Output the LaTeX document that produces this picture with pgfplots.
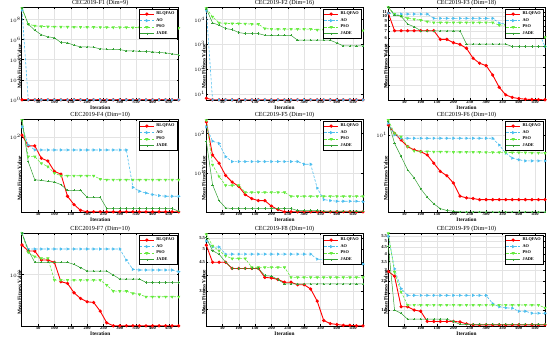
\documentclass[border=0pt]{standalone}
\usepackage{fontspec}
\setmainfont{Liberation Serif}
\usepackage{pgfplots}
\usepackage{pgfplotstable}
\pgfplotsset{compat=1.18}
\definecolor{aoc}{RGB}{77,190,238}
\definecolor{psoc}{RGB}{100,235,60}
\definecolor{jadec}{RGB}{50,160,50}

\pgfplotstableread{
it r a p j
1 1 8.5e8 1.26e9 1.26e9
20 1 1 3.4e7 3.39e7
40 1 1 2.3e7 8.5e6
60 1 1 2.0e7 2.95e6
80 1 1 1.9e7 1.86e6
100 1 1 1.85e7 1.48e6
120 1 1 1.8e7 5.0e5
140 1 1 1.8e7 4.68e5
160 1 1 1.75e7 2.69e5
180 1 1 1.75e7 1.86e5
200 1 1 1.7e7 1.86e5
220 1 1 1.7e7 1.70e5
240 1 1 1.65e7 1.17e5
260 1 1 1.65e7 1.07e5
280 1 1 1.6e7 1.07e5
300 1 1 1.6e7 1.0e5
320 1 1 1.6e7 7.4e4
340 1 1 1.55e7 7.4e4
360 1 1 1.55e7 6.8e4
380 1 1 1.5e7 6.3e4
400 1 1 1.5e7 5.9e4
420 1 1 1.5e7 5.0e4
440 1 1 1.45e7 4.7e4
460 1 1 1.45e7 3.7e4
480 1 1 1.4e7 2.95e4
}\Fa

\pgfplotstableread{
it r a p j
1 6.6 2.4e4 2.8e4 2.7e4
20 5.7 5.7 1.29e4 7.3e3
40 5.7 5.7 7.3e3 5.9e3
60 5.7 5.7 6.9e3 4.3e3
80 5.7 5.7 6.9e3 3.9e3
100 5.7 5.7 6.9e3 2.96e3
120 5.7 5.7 6.7e3 2.7e3
140 5.7 5.7 6.5e3 2.7e3
160 5.7 5.7 6.5e3 2.7e3
180 5.7 5.7 4.3e3 2.3e3
200 5.7 5.7 4.1e3 2.3e3
220 5.7 5.7 4.1e3 2.3e3
240 5.7 5.7 4.1e3 2.3e3
260 5.7 5.7 4.1e3 2.3e3
280 5.7 5.7 4.1e3 1.45e3
300 5.7 5.7 4.1e3 1.45e3
320 5.7 5.7 4.1e3 1.45e3
340 5.7 5.7 3.8e3 1.45e3
360 5.7 5.7 3.8e3 1.45e3
380 5.7 5.7 3.8e3 1.45e3
400 5.7 5.7 3.8e3 1.13e3
420 5.7 5.7 3.8e3 8.5e2
440 5.7 5.7 3.8e3 8.5e2
460 5.7 5.7 3.8e3 8.5e2
480 5.7 5.7 3.6e3 8.5e2
}\Fb

\pgfplotstableread{
it r a p j
1 10.7 10.7 12.3 12.3
20 7.11 10.5 10.5 10.26
40 7.11 10.5 10.0 10.0
60 7.11 10.5 9.5 8.3
80 7.11 10.5 9.3 7.8
100 7.11 10.5 9.1 7.1
120 7.11 10.5 8.8 7.1
140 7.11 9.5 8.6 7.1
160 5.8 9.5 8.6 7.1
180 5.8 9.5 8.6 7.1
200 5.37 9.5 8.6 7.1
220 5.16 9.5 8.6 7.1
240 4.71 9.5 8.6 5.2
260 3.73 9.5 8.6 5.2
280 3.32 9.5 8.6 5.2
300 3.14 9.5 8.6 5.2
320 2.52 9.5 8.6 5.2
340 1.89 8.5 8.1 5.2
360 1.58 8.3 8.1 5.2
380 1.49 8.0 7.9 4.9
400 1.45 7.0 6.1 4.9
420 1.43 7.0 6.1 4.9
440 1.42 7.0 6.1 4.9
460 1.415 7.0 6.1 4.9
480 1.41 4.9 6.1 4.9
}\Fc

\pgfplotstableread{
it r a p j
1 104 126 147 147
20 81 82.5 63 56
40 81 73.6 63 36.8
60 60.7 73.6 54 36.3
80 57 73.6 50 35.5
100 44.7 73.6 43 34.9
120 42 73.6 40.4 32.9
140 25.1 73.6 40.4 28.8
160 20.7 73.6 40.4 28.8
180 18.1 73.6 40.4 28.8
200 17.5 73.6 40.4 24.5
220 17.5 73.6 40.4 24.5
240 17.5 73.6 37.4 24.5
260 17.5 73.6 36.8 18.9
280 17.5 73.6 36.8 18.9
300 17.5 73.6 36.8 18.9
320 17.5 73.6 36.8 18.9
340 17.5 30.9 36.8 18.9
360 17.5 28.2 36.8 18.9
380 17.5 27.1 36.8 18.9
400 17.5 26.1 36.8 18.9
420 17.5 25.5 36.8 18.9
440 17.5 25.1 36.8 18.9
460 17.5 25.1 36.8 18.9
480 17.5 25.1 36.8 17.7
}\Fd

\pgfplotstableread{
it r a p j
1 195 147 215 64
20 28.7 64 16.2 5.1
40 17.8 56 8.25 2.03
60 8.74 26 4.92 1.33
80 5.96 19.6 4.92 1.28
100 4.64 19.6 4.92 1.28
120 2.87 19.6 3.29 1.28
140 2.28 19.6 3.29 1.28
160 2.03 19.6 3.29 1.28
180 2.03 19.6 3.29 1.28
200 1.47 19.6 3.29 1.28
220 1.21 19.6 3.29 1.28
240 1.06 19.6 3.29 1.28
260 1.06 19.6 2.61 1.28
280 1.06 19.6 2.61 1.14
300 1.06 16.8 2.61 1.14
320 1.06 16.8 2.61 1.14
340 1.06 4.2 2.61 1.14
360 1.06 2.15 2.61 1.1
380 1.06 2.03 2.61 1.1
400 1.06 1.96 2.61 1.1
420 1.06 1.96 2.61 1.1
440 1.06 1.96 2.61 1.1
460 1.06 1.96 2.61 1.1
480 1.06 1.9 2.61 1.1
}\Fe

\pgfplotstableread{
it r a p j
1 13.5 14.2 15.6 14.9
20 10.5 10 10.5 7.8
40 8.6 9.06 9.5 5.25
60 7.06 9.06 7.06 3.52
80 6.4 9.06 6.2 2.76
100 6.08 9.06 6.08 2.0
120 5.5 9.06 6.08 1.55
140 4.3 9.06 6.05 1.27
160 3.36 9.06 6.05 1.1
180 2.95 9.06 6.05 1.04
200 2.37 9.06 6.0 1.02
220 1.6 9.06 6.0 1.0
240 1.52 9.06 6.0 1.0
260 1.49 9.06 6.0 1.0
280 1.44 9.06 6.0 1.0
300 1.44 9.06 5.95 1.0
320 1.44 9.06 5.95 1.0
340 1.44 7.4 5.95 1.0
360 1.44 5.8 5.95 1.0
380 1.44 5.0 5.9 1.0
400 1.44 4.75 5.9 1.0
420 1.44 4.6 5.9 1.0
440 1.44 4.6 5.85 1.0
460 1.44 4.6 5.85 1.0
480 1.44 4.6 5.8 1.0
}\Ff

\pgfplotstableread{
it r a p j
1 1965 2570 2570 2570
20 1711 1792 1660 1750
40 1711 1792 1503 1318
60 1391 1792 1445 1318
80 1391 1792 1445 1318
100 1318 1792 878 1318
120 845 1792 878 1318
140 813 1792 878 1318
160 656 1792 878 1259
180 575 1792 878 1166
200 533 1792 878 1080
220 525 1792 878 1080
240 430 1792 878 1080
260 329 1792 782 1080
280 307 1792 681 985
300 307 1792 681 898
320 307 1391 681 898
340 307 1122 646 898
360 307 1105 631 898
380 307 1105 598 832
400 307 1105 598 832
420 307 1105 598 832
440 307 1105 598 832
460 307 1105 598 832
480 307 1063 598 832
}\Fg

\pgfplotstableread{
it r a p j
1 5.18 5.37 5.68 5.52
20 4.48 5.1 5.15 4.94
40 4.48 5.1 4.94 4.8
60 4.48 4.8 4.73 4.48
80 4.25 4.8 4.62 4.25
100 4.25 4.8 4.62 4.25
120 4.25 4.8 4.62 4.25
140 4.25 4.8 4.29 4.25
160 4.25 4.8 4.29 4.25
180 3.94 4.8 4.29 4.0
200 3.92 4.8 4.29 3.98
220 3.87 4.8 4.29 3.87
240 3.78 4.8 4.29 3.73
260 3.78 4.8 3.94 3.73
280 3.70 4.8 3.94 3.73
300 3.70 4.8 3.94 3.73
320 3.57 4.8 3.94 3.73
340 3.22 4.6 3.94 3.73
360 2.73 4.58 3.94 3.73
380 2.66 4.48 3.94 3.73
400 2.64 4.46 3.94 3.73
420 2.62 4.46 3.94 3.73
440 2.62 4.46 3.94 3.73
460 2.61 4.46 3.94 3.73
480 2.61 4.41 3.94 3.73
}\Fh

\pgfplotstableread{
it r a p j
1 2.94 5.46 5.73 4.6
20 2.71 3.08 2.91 1.5
40 1.59 2.18 2.06 1.42
60 1.59 1.94 1.64 1.28
80 1.5 1.94 1.64 1.28
100 1.47 1.94 1.64 1.28
120 1.23 1.94 1.64 1.28
140 1.23 1.94 1.64 1.28
160 1.23 1.94 1.64 1.28
180 1.23 1.94 1.64 1.28
200 1.23 1.94 1.64 1.23
220 1.22 1.94 1.64 1.17
240 1.18 1.94 1.64 1.17
260 1.16 1.94 1.64 1.17
280 1.16 1.94 1.64 1.17
300 1.16 1.94 1.64 1.17
320 1.16 1.68 1.64 1.17
340 1.16 1.59 1.64 1.17
360 1.16 1.56 1.64 1.17
380 1.16 1.55 1.64 1.17
400 1.16 1.47 1.64 1.17
420 1.16 1.47 1.64 1.17
440 1.16 1.42 1.64 1.17
460 1.16 1.42 1.64 1.17
480 1.16 1.42 1.56 1.17
}\Fi

\pgfplotsset{
  panel/.style={
    scale only axis, width=157pt, height=92.5pt,
    anchor=north west,
    xmin=0, xmax=480, xtick={50,100,...,450},
    grid=major, grid style={gray!22, line width=0.3pt},
    axis line style={line width=0.45pt},
    tick style={line width=0.3pt, black},
    major tick length=2pt, minor tick length=0pt, tick align=inside,
    /pgf/number format/assume math mode=true,
    ticklabel style={font=\fontsize{4.6}{5.4}\selectfont\bfseries},
    xticklabel style={inner sep=0.5pt},
    yticklabel style={inner sep=0.8pt},
    xlabel={Iteration}, ylabel={Mean Fitness Value},
    label style={font=\fontsize{5.3}{6}\selectfont\bfseries},
    xlabel style={at={(axis description cs:0.5,0)}, anchor=north, yshift=-5.6pt, inner sep=0pt},
    ylabel style={at={(axis description cs:0,0.5)}, anchor=south, xshift=-13pt, inner sep=0pt},
    title style={font=\fontsize{6.2}{7}\selectfont, at={(axis description cs:0.5,1)}, anchor=south, yshift=-4.7pt, inner sep=0pt},
    legend style={at={(0.99,0.98)}, anchor=north east,
      font=\fontsize{4.3}{5}\selectfont\bfseries,
      draw=black, line width=0.3pt, inner sep=0.6pt,
      row sep=-1.8pt, cells={anchor=west}},
    legend image code/.code={\draw[mark repeat=2,mark phase=2] plot coordinates {(0pt,0pt) (7pt,0pt) (14pt,0pt)};},
  },
  rl/.style={color=red, line width=0.9pt, mark=*, mark size=1.15pt, mark options={solid, fill=red, draw=red}},
  ao/.style={color=aoc, line width=0.6pt, dash pattern=on 2.5pt off 1.5pt, mark=triangle*, mark size=1.3pt, mark options={solid, rotate=-90, fill=aoc}},
  pso/.style={color=psoc, line width=0.6pt, dash pattern=on 2.5pt off 1.5pt, mark=triangle*, mark size=1.3pt, mark options={solid, rotate=180, fill=psoc}},
  jade/.style={color=jadec, line width=0.5pt, mark=+, mark size=1.1pt, mark options={solid}},
}

\newcommand{\fourplots}[1]{%
  \addplot[rl] table[x=it,y=r]{#1};
  \addplot[ao] table[x=it,y=a]{#1};
  \addplot[pso] table[x=it,y=p]{#1};
  \addplot[jade] table[x=it,y=j]{#1};
  \legend{RLQFAO,AO,PSO,JADE}
}

\begin{document}
\begin{tikzpicture}
\path[use as bounding box] (0pt,0pt) rectangle (550pt,-341pt);

\begin{axis}[panel, ymode=log, at={(21.7pt,-7.3pt)}, title={CEC2019-F1 (Dim=9)},
  ymin=1, ymax=1.6e9, ytick={1,1e2,1e4,1e6,1e8}]
\fourplots{\Fa}
\end{axis}

\begin{axis}[panel, ymode=log, at={(206pt,-7.3pt)}, title={CEC2019-F2 (Dim=16)},
  ymin=5.7, ymax=3.1e4, ytick={1e1,1e2,1e3,1e4}]
\fourplots{\Fb}
\end{axis}

\begin{axis}[panel, ymode=log, at={(388pt,-7.3pt)}, title={CEC2019-F3 (Dim=18)},
  ymin=1.409, ymax=12.3, ytick={2,3,4,5,6,7,8,9,10,11}, log ticks with fixed point]
\fourplots{\Fc}
\end{axis}

\begin{axis}[panel, ymode=log, at={(21.7pt,-119.3pt)}, title={CEC2019-F4 (Dim=10)},
  ymin=17.5, ymax=150, ytick={100}]
\fourplots{\Fd}
\end{axis}

\begin{axis}[panel, ymode=log, at={(206pt,-119.3pt)}, title={CEC2019-F5 (Dim=10)},
  ymin=1.06, ymax=228, ytick={10,100}]
\fourplots{\Fe}
\end{axis}

\begin{axis}[panel, ymode=log, at={(388pt,-119.3pt)}, title={CEC2019-F6 (Dim=10)},
  ymin=1.0, ymax=16, ytick={10}]
\fourplots{\Ff}
\end{axis}

\begin{axis}[panel, ymode=log, at={(21.7pt,-233.3pt)}, title={CEC2019-F7 (Dim=10)},
  ymin=307, ymax=2570, ytick={1000}]
\fourplots{\Fg}
\end{axis}

\begin{axis}[panel, ymode=log, at={(206pt,-233.3pt)}, title={CEC2019-F8 (Dim=10)},
  ymin=2.61, ymax=5.73, ytick={3,3.5,4,4.5,5,5.5}, log ticks with fixed point]
\fourplots{\Fh}
\end{axis}

\begin{axis}[panel, ymode=log, at={(388pt,-233.3pt)}, title={CEC2019-F9 (Dim=10)},
  ymin=1.14, ymax=5.73, ytick={1.5,2,2.5,3,3.5,4,4.5,5,5.5}, log ticks with fixed point]
\fourplots{\Fi}
\end{axis}
\end{tikzpicture}
\end{document}
